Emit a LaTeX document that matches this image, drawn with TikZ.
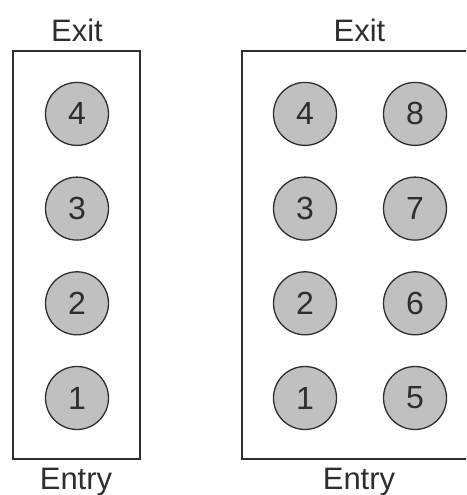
\documentclass[tikz,border=0pt]{standalone}
\usepackage{fontspec}
\setmainfont{Liberation Sans}
\usetikzlibrary{positioning}
\usepackage{xcolor}
\definecolor{seatgray}{HTML}{C0C0C0}
\definecolor{edgegray}{HTML}{2E2E2E}

\begin{document}
\begin{tikzpicture}[x=1pt,y=-1pt,
  seat/.style={circle,draw=edgegray,line width=1.3pt,fill=seatgray,minimum size=63pt,inner sep=0pt,text=edgegray,font=\fontsize{32}{32}\selectfont},
  lbl/.style={anchor=base,inner sep=0pt,text=edgegray,font=\fontsize{31}{31}\selectfont}]
\useasboundingbox (0,0) rectangle (466,495);
\clip (0,0) rectangle (466,495);
% single column
\draw[edgegray,line width=1.3pt] (13,51) rectangle (140,459);
\node[lbl] (exitA) at (77,42) {Exit};
\node[lbl] (entryA) at (76,489) {Entry};
\foreach \n in {1,...,4}
  \node[seat] (a\n) at (77,{398-94.7*(\n-1)}) {\n};
% double column
\draw[edgegray,line width=1.3pt] (242,51) rectangle (480,459);
\node[lbl] (exitB) at (359.5,42) {Exit};
\node[lbl] (entryB) at (359,489) {Entry};
\foreach \n in {1,...,4}
  \node[seat] (b\n) at (305,{398-94.7*(\n-1)}) {\n};
\foreach \n in {5,...,8}
  \node[seat] (b\n) at (415,{398-94.7*(\n-5)}) {\n};
\end{tikzpicture}
\end{document}
